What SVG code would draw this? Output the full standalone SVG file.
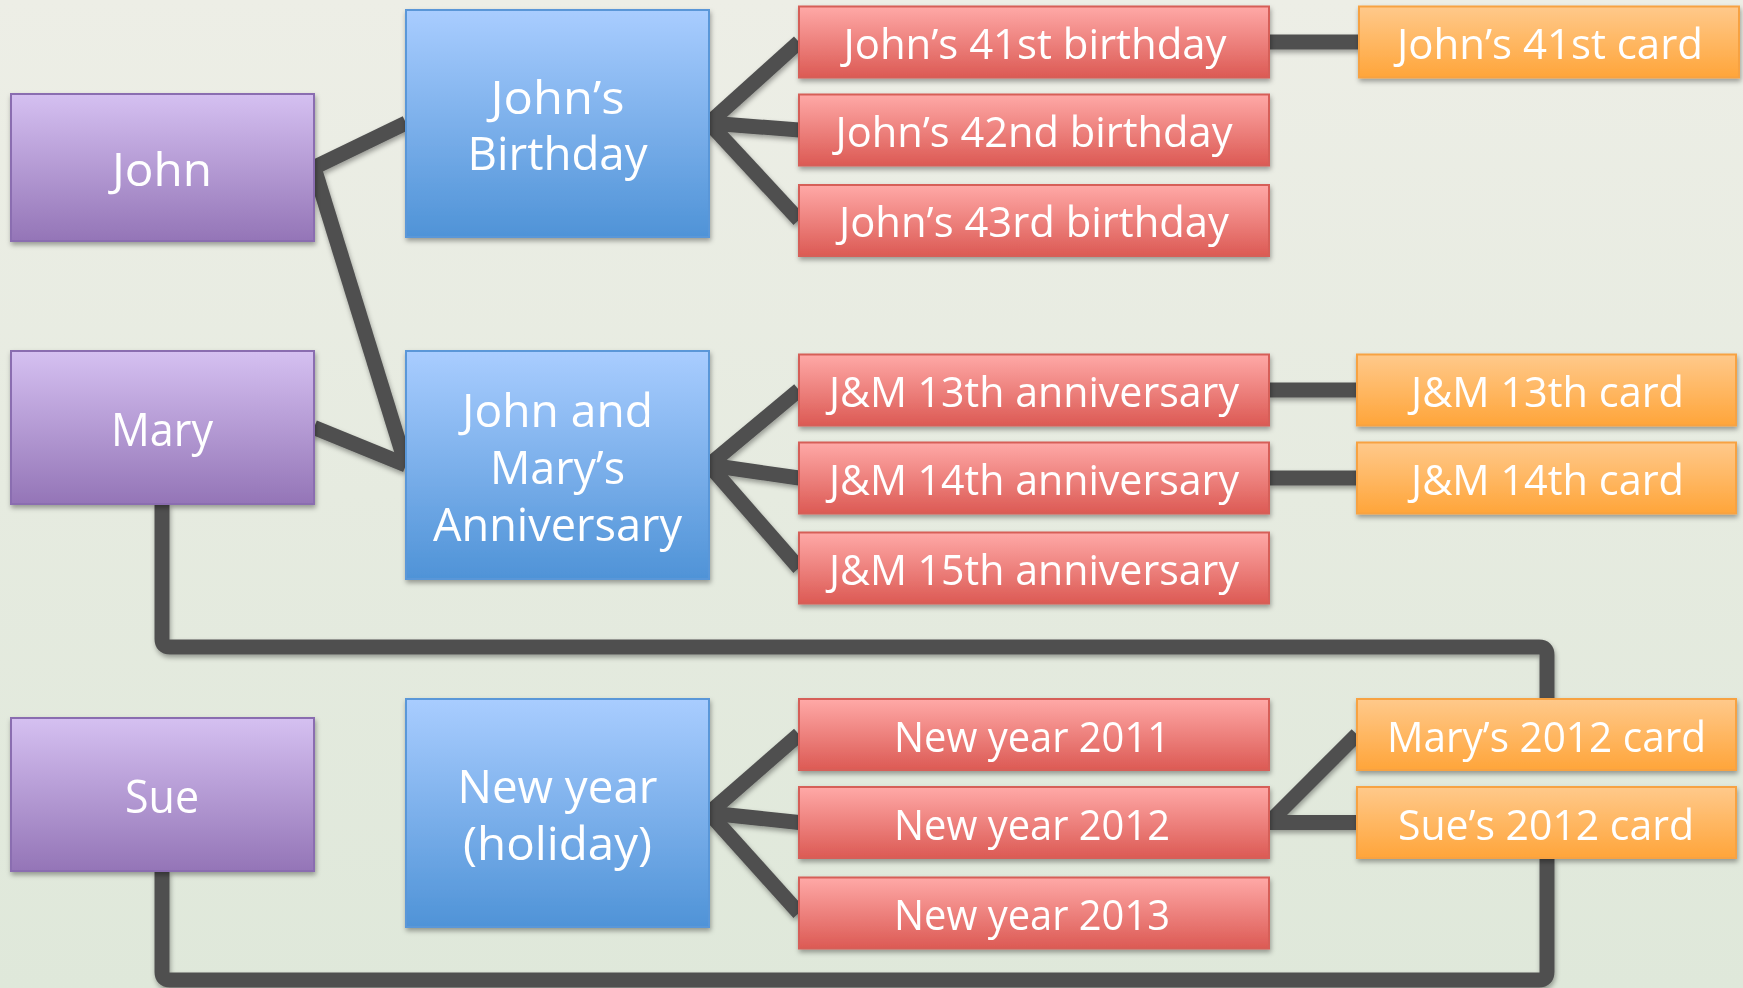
<svg xmlns="http://www.w3.org/2000/svg" width="1743" height="988" viewBox="0 0 1743 988">
<defs>
<linearGradient id="bg" x1="0" y1="0" x2="0" y2="1"><stop offset="0" stop-color="#edeee6"/><stop offset="1" stop-color="#dfe8da"/></linearGradient>
<linearGradient id="gp" x1="0" y1="0" x2="0" y2="1"><stop offset="0" stop-color="#d5c0f1"/><stop offset="1" stop-color="#9475b7"/></linearGradient>
<linearGradient id="gb" x1="0" y1="0" x2="0" y2="1"><stop offset="0" stop-color="#a9cdff"/><stop offset="1" stop-color="#4f93d7"/></linearGradient>
<linearGradient id="gr" x1="0" y1="0" x2="0" y2="1"><stop offset="0" stop-color="#ffa9a7"/><stop offset="1" stop-color="#dc5a54"/></linearGradient>
<linearGradient id="go" x1="0" y1="0" x2="0" y2="1"><stop offset="0" stop-color="#ffc98b"/><stop offset="1" stop-color="#ffa53a"/></linearGradient>
<filter id="sh" x="-10%" y="-10%" width="120%" height="130%"><feDropShadow dx="1" dy="3" stdDeviation="2.5" flood-color="#000" flood-opacity="0.35"/></filter>
</defs>
<style>
.p{fill:url(#gp);stroke:#8a6db0;stroke-width:2}
.b{fill:url(#gb);stroke:#5a97d8;stroke-width:2}
.r{fill:url(#gr);stroke:#d65e58;stroke-width:2}
.o{fill:url(#go);stroke:#f7a243;stroke-width:2}
.t{font-family:"Open Sans","Noto Sans","Liberation Sans",sans-serif;fill:#fff;text-anchor:middle}
.big{font-size:46px}
.sm{font-size:42px}
.c{fill:none;stroke:#505050;stroke-width:15;stroke-linejoin:round;stroke-linecap:butt}
</style>
<rect x="0" y="0" width="1743" height="988" fill="url(#bg)"/>
<g id="connectors" filter="url(#sh)">
<path class="c" d="M314,167.5 L406,123"/>
<path class="c" d="M314,167.5 L406,465"/>
<path class="c" d="M314,427.5 L406,465"/>
<path class="c" d="M709,123 L799,42"/>
<path class="c" d="M709,123 L799,130"/>
<path class="c" d="M709,123 L799,220"/>
<path class="c" d="M709,465 L799,390"/>
<path class="c" d="M709,465 L799,478"/>
<path class="c" d="M709,465 L799,568"/>
<path class="c" d="M709,813 L799,734.5"/>
<path class="c" d="M709,813 L799,822.5"/>
<path class="c" d="M709,813 L799,913"/>
<path class="c" d="M1269,42 L1359,42"/>
<path class="c" d="M1269,390 L1357,390"/>
<path class="c" d="M1269,478 L1357,478"/>
<path class="c" d="M1269,822.5 L1357,822.5"/>
<path class="c" d="M1269,822.5 L1357,734.5"/>
<path class="c" d="M162,504 L162,639 Q162,647 170,647 L1539,647 Q1547,647 1547,655 L1547,699"/>
<path class="c" d="M162,871 L162,972 Q162,980 170,980 L1539,980 Q1547,980 1547,972 L1547,858"/>
</g>
<g id="john" filter="url(#sh)"><rect class="p" x="11" y="94" width="303" height="147"/><text class="t big" x="162" y="186" textLength="100" lengthAdjust="spacingAndGlyphs">John</text></g>
<g id="mary" filter="url(#sh)"><rect class="p" x="11" y="351" width="303" height="153"/><text class="t big" x="162" y="446" textLength="102" lengthAdjust="spacingAndGlyphs">Mary</text></g>
<g id="sue" filter="url(#sh)"><rect class="p" x="11" y="718" width="303" height="153"/><text class="t big" x="162" y="813" textLength="74" lengthAdjust="spacingAndGlyphs">Sue</text></g>
<g id="johns-birthday" filter="url(#sh)"><rect class="b" x="406" y="10" width="303" height="227"/><text class="t big" x="557.5" y="114" textLength="134" lengthAdjust="spacingAndGlyphs">John’s</text><text class="t big" x="557.5" y="170" textLength="180" lengthAdjust="spacingAndGlyphs">Birthday</text></g>
<g id="anniversary" filter="url(#sh)"><rect class="b" x="406" y="351" width="303" height="228"/><text class="t big" x="557.5" y="427" textLength="191" lengthAdjust="spacingAndGlyphs">John and</text><text class="t big" x="557.5" y="484" textLength="135" lengthAdjust="spacingAndGlyphs">Mary’s</text><text class="t big" x="557.5" y="541" textLength="249" lengthAdjust="spacingAndGlyphs">Anniversary</text></g>
<g id="new-year" filter="url(#sh)"><rect class="b" x="406" y="699" width="303" height="228"/><text class="t big" x="557.5" y="803" textLength="200" lengthAdjust="spacingAndGlyphs">New year</text><text class="t big" x="557.5" y="860" textLength="189" lengthAdjust="spacingAndGlyphs">(holiday)</text></g>
<g id="b41" filter="url(#sh)"><rect class="r" x="799" y="6.5" width="470" height="71"/><text class="t sm" x="1035" y="59" textLength="383" lengthAdjust="spacingAndGlyphs">John’s 41st birthday</text></g>
<g id="b42" filter="url(#sh)"><rect class="r" x="799" y="94.5" width="470" height="71"/><text class="t sm" x="1034" y="147" textLength="397" lengthAdjust="spacingAndGlyphs">John’s 42nd birthday</text></g>
<g id="b43" filter="url(#sh)"><rect class="r" x="799" y="185" width="470" height="71"/><text class="t sm" x="1034" y="237" textLength="390" lengthAdjust="spacingAndGlyphs">John’s 43rd birthday</text></g>
<g id="a13" filter="url(#sh)"><rect class="r" x="799" y="354.5" width="470" height="71"/><text class="t sm" x="1034" y="407" textLength="410" lengthAdjust="spacingAndGlyphs">J&amp;M 13th anniversary</text></g>
<g id="a14" filter="url(#sh)"><rect class="r" x="799" y="442.5" width="470" height="71"/><text class="t sm" x="1034" y="495" textLength="410" lengthAdjust="spacingAndGlyphs">J&amp;M 14th anniversary</text></g>
<g id="a15" filter="url(#sh)"><rect class="r" x="799" y="532.5" width="470" height="71"/><text class="t sm" x="1034" y="585" textLength="410" lengthAdjust="spacingAndGlyphs">J&amp;M 15th anniversary</text></g>
<g id="ny11" filter="url(#sh)"><rect class="r" x="799" y="699" width="470" height="71"/><text class="t sm" x="1032" y="752" textLength="276" lengthAdjust="spacingAndGlyphs">New year 2011</text></g>
<g id="ny12" filter="url(#sh)"><rect class="r" x="799" y="787" width="470" height="71"/><text class="t sm" x="1032" y="840" textLength="276" lengthAdjust="spacingAndGlyphs">New year 2012</text></g>
<g id="ny13" filter="url(#sh)"><rect class="r" x="799" y="877.5" width="470" height="71"/><text class="t sm" x="1032" y="930" textLength="276" lengthAdjust="spacingAndGlyphs">New year 2013</text></g>
<g id="c41" filter="url(#sh)"><rect class="o" x="1359" y="6.5" width="380" height="71"/><text class="t sm" x="1550" y="59" textLength="306" lengthAdjust="spacingAndGlyphs">John’s 41st card</text></g>
<g id="c13" filter="url(#sh)"><rect class="o" x="1357" y="354.5" width="379" height="71"/><text class="t sm" x="1547.5" y="407" textLength="273" lengthAdjust="spacingAndGlyphs">J&amp;M 13th card</text></g>
<g id="c14" filter="url(#sh)"><rect class="o" x="1357" y="442.5" width="379" height="71"/><text class="t sm" x="1547.5" y="495" textLength="273" lengthAdjust="spacingAndGlyphs">J&amp;M 14th card</text></g>
<g id="cmary" filter="url(#sh)"><rect class="o" x="1357" y="699" width="379" height="71"/><text class="t sm" x="1546.5" y="752" textLength="319" lengthAdjust="spacingAndGlyphs">Mary’s 2012 card</text></g>
<g id="csue" filter="url(#sh)"><rect class="o" x="1357" y="787" width="379" height="71"/><text class="t sm" x="1546" y="840" textLength="296" lengthAdjust="spacingAndGlyphs">Sue’s 2012 card</text></g>
</svg>
